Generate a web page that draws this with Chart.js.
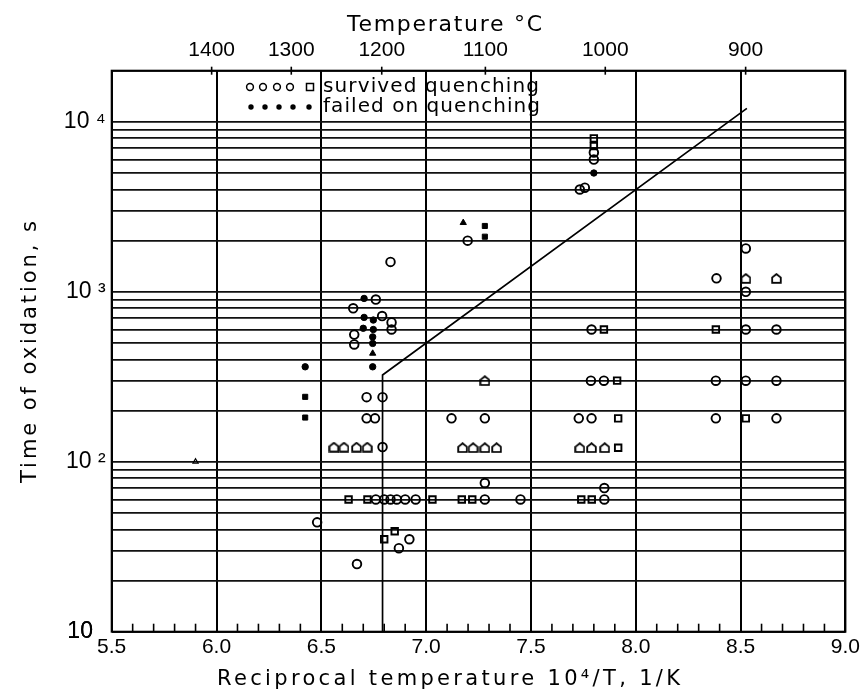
<!DOCTYPE html>
<html><head><meta charset="utf-8">
<script src="https://cdn.jsdelivr.net/npm/chart.js@4/dist/chart.umd.min.js"></script>
<style>html,body{margin:0;padding:0;background:#fff}canvas{display:block}</style>
</head><body>
<canvas id="c" width="863" height="692"></canvas>
<script>
// ---- axis definitions ----
const xMajorTicks = [5.5, 6.0, 6.5, 7.0, 7.5, 8.0, 8.5, 9.0];
const tempTicksC = [1400, 1300, 1200, 1100, 1000, 900];
const yLabelTicks = [10, 100, 1000, 10000];
const yLabelText = ['10  ', '10 ²', '10 ³', '10 ⁴'];

// ---- data (x = 10^4/T, y = time of oxidation, s) ----
const openCircles = [[6.652,800],[6.76,900],[6.79,720],[6.835,660],[6.835,600],[6.657,560],[6.657,490],
  [6.716,240],[6.792,240],[6.716,180],[6.756,180],[6.792,122],[6.83,1500],[7.733,4000],[7.757,4100],
  [7.80,6000],[7.80,6600],[7.198,2000],[7.789,600],[7.786,300],[7.848,300],[7.121,180],[7.28,180],
  [7.728,180],[7.789,180],[8.525,1800],[8.385,1200],[8.525,1000],[8.525,600],[8.671,600],[8.382,300],
  [8.525,300],[8.671,300],[8.382,180],[8.671,180],[6.48,44],[6.67,25],[6.87,31],[6.92,35],[7.28,75],
  [7.85,70],[6.76,60],[6.80,60],[6.83,60],[6.86,60],[6.90,60],[6.95,60],[7.28,60],[7.45,60],[7.85,60]];
const openSquares = [[7.80,8000],[7.80,7200],[7.911,300],[7.916,180],[8.382,600],[8.525,180],[7.916,121],
  [6.63,60],[6.72,60],[7.03,60],[7.17,60],[7.22,60],[7.74,60],[7.79,60],[6.80,35],[6.85,39],[7.848,600]];
const openHouses = [[6.56,122],[6.608,122],[6.668,122],[6.719,122],[7.174,121],[7.224,121],[7.28,121],
  [7.336,121],[7.733,121],[7.789,121],[7.852,121],[7.28,300],[8.525,1200],[8.671,1200]];
const openTriangles = [[5.9,100]];
const filledDots = [[6.423,362],[6.704,914],[6.704,707],[6.748,682],[6.70,610],[6.748,600],[6.745,543],
  [6.745,497],[6.745,362],[7.80,5000]];
const filledSquares = [[6.423,241],[6.423,182],[7.28,2440],[7.28,2110]];
const filledTriangles = [[7.177,2550],[6.745,434]];
const boundaryX = [6.792, 6.792, 8.53];
const boundaryY = [10, 324, 12000];

const legendRows = ['survived quenching', 'failed on quenching'];
const xTitle = 'Reciprocal temperature 10⁴/T, 1/K';
const yTitle = 'Time of oxidation, s';
const topTitle = 'Temperature °C';

// ---- helpers ----
const FONT = '"Liberation Sans", Arial, sans-serif';
const TFONT = '"DejaVu Sans", "Liberation Sans", sans-serif';
const pts = arr => arr.map(p => ({x: p[0], y: p[1]}));
function makeHouse(size, lw) {
  const c = document.createElement('canvas'); c.width = c.height = size;
  const g = c.getContext('2d'); g.lineWidth = lw; g.strokeStyle = '#000'; g.lineJoin = 'miter';
  const p = lw / 2 + 0.3;
  g.beginPath(); g.moveTo(p, size - p); g.lineTo(p, size * 0.42); g.lineTo(size / 2, p);
  g.lineTo(size - p, size * 0.42); g.lineTo(size - p, size - p); g.closePath(); g.stroke();
  return c;
}
const house = makeHouse(11, 1.8);

function fitText(ctx, text, x, y, width, font) {
  ctx.font = font; ctx.letterSpacing = '0px';
  const w = ctx.measureText(text).width;
  const ls = (width - w) / Math.max(1, text.length - 1);
  ctx.letterSpacing = ls + 'px';
  ctx.textAlign = 'left'; ctx.textBaseline = 'middle';
  ctx.fillText(text, x, y);
  ctx.letterSpacing = '0px';
}

const yGridValues = [];
for (let e = 1; e <= 3; e++) for (let m = 1; m <= 9; m++) yGridValues.push(m * Math.pow(10, e));
yGridValues.push(10000, 20000);

const decor = {
  id: 'decor',
  afterDraw(chart) {
    const ctx = chart.ctx, a = chart.chartArea;
    const sx = chart.scales.x;
    ctx.save();
    ctx.strokeStyle = '#000'; ctx.fillStyle = '#000';
    // frame
    ctx.lineWidth = 2;
    ctx.strokeRect(a.left, a.top, a.right - a.left, a.bottom - a.top);
    // minor ticks along bottom (inward)
    ctx.lineWidth = 1.6;
    for (let i = 56; i < 90; i++) {
      if (i % 5 === 0) continue;
      const px = sx.getPixelForValue(i / 10);
      ctx.beginPath(); ctx.moveTo(px, a.bottom); ctx.lineTo(px, a.bottom - 8); ctx.stroke();
    }
    // temperature ticks at top
    tempTicksC.forEach(t => {
      const px = sx.getPixelForValue(1e4 / (t + 273.15));
      ctx.beginPath(); ctx.moveTo(px, a.top - 4); ctx.lineTo(px, a.top + 4); ctx.stroke();
    });
    // legend
    ctx.lineWidth = 1.5;
    const lx = [250, 263, 277, 290];
    lx.forEach(x => { ctx.beginPath(); ctx.arc(x, 87, 3.4, 0, Math.PI * 2); ctx.stroke(); });
    ctx.strokeRect(306.5, 83.5, 7, 7);
    [251, 265, 279, 293, 309].forEach(x => { ctx.beginPath(); ctx.arc(x, 107, 2.7, 0, Math.PI * 2); ctx.fill(); });
    fitText(ctx, legendRows[0], 323, 87, 216, '20px ' + TFONT);
    fitText(ctx, legendRows[1], 323, 107, 217, '20px ' + TFONT);
    // titles
    fitText(ctx, topTitle, 347, 25, 195, '22px ' + TFONT);
    fitText(ctx, xTitle, 217, 680, 463, '21px ' + TFONT);
    ctx.translate(31, 352); ctx.rotate(-Math.PI / 2);
    fitText(ctx, yTitle, -131, 0, 262, '21px ' + TFONT);
    ctx.restore();
  }
};

const openStyle = {borderColor: '#000', backgroundColor: 'rgba(0,0,0,0)', borderWidth: 1.9};
new Chart(document.getElementById('c'), {
  type: 'scatter',
  data: {
    datasets: [
      {label: 'boundary', data: boundaryX.map((x, i) => ({x, y: boundaryY[i]})), showLine: true,
        borderColor: '#000', borderWidth: 1.7, pointRadius: 0, tension: 0, fill: false},
      {label: 'survived (circle)', data: pts(openCircles), pointStyle: 'circle', pointRadius: 4.3, ...openStyle},
      {label: 'survived (square)', data: pts(openSquares), pointStyle: 'rect', pointRadius: 4.6, ...openStyle},
      {label: 'survived (house)', data: pts(openHouses), pointStyle: house, pointRadius: 5, ...openStyle},
      {label: 'survived (triangle)', data: pts(openTriangles), pointStyle: 'triangle', pointRadius: 3, ...openStyle, borderWidth: 1.2},
      {label: 'failed (dot)', data: pts(filledDots), pointStyle: 'circle', pointRadius: 3.2, borderColor: '#000', backgroundColor: '#000', borderWidth: 1},
      {label: 'failed (square)', data: pts(filledSquares), pointStyle: 'rect', pointRadius: 3.6, borderColor: '#000', backgroundColor: '#000', borderWidth: 1},
      {label: 'failed (triangle)', data: pts(filledTriangles), pointStyle: 'triangle', pointRadius: 3.6, borderColor: '#000', backgroundColor: '#000', borderWidth: 1}
    ]
  },
  options: {
    responsive: false, animation: false, devicePixelRatio: 1,
    layout: {padding: {left: 0, right: 17.3, top: 0, bottom: 0}},
    plugins: {legend: {display: false}, tooltip: {enabled: false}},
    scales: {
      x: {
        type: 'linear', position: 'bottom', min: 5.5, max: 9.0,
        afterBuildTicks: s => { s.ticks = xMajorTicks.map(v => ({value: v})); },
        afterFit: s => { s.height = 60.3; },
        ticks: {callback: v => Number(v).toFixed(1), color: '#000', font: {family: FONT, size: 21},
          padding: 3, maxRotation: 0, autoSkip: false},
        grid: {color: '#000', lineWidth: 2, drawTicks: false},
        border: {display: false}
      },
      xTop: {
        type: 'linear', position: 'top', min: 5.5, max: 9.0,
        afterBuildTicks: s => { s.ticks = tempTicksC.map(t => ({value: 1e4 / (t + 273.15)})); },
        afterFit: s => { s.height = 70.7; },
        ticks: {callback: (v, i) => String(tempTicksC[i]), color: '#000', font: {family: FONT, size: 21},
          padding: 8, maxRotation: 0, autoSkip: false},
        grid: {display: false, drawTicks: false},
        border: {display: false}
      },
      y: {
        type: 'logarithmic', position: 'left', min: 10, max: 20000,
        afterBuildTicks: s => { s.ticks = yGridValues.concat([10]).sort((a, b) => a - b).map(v => ({value: v})); },
        afterFit: s => { s.width = 111.7; },
        ticks: {callback: v => { const i = yLabelTicks.indexOf(v); return i >= 0 ? yLabelText[i] : ''; },
          color: '#000', font: {family: FONT, size: 23}, padding: 6, autoSkip: false},
        grid: {color: '#111', lineWidth: 1.7, drawTicks: false},
        border: {display: false}
      }
    }
  },
  plugins: [decor]
});
</script>
</body></html>
